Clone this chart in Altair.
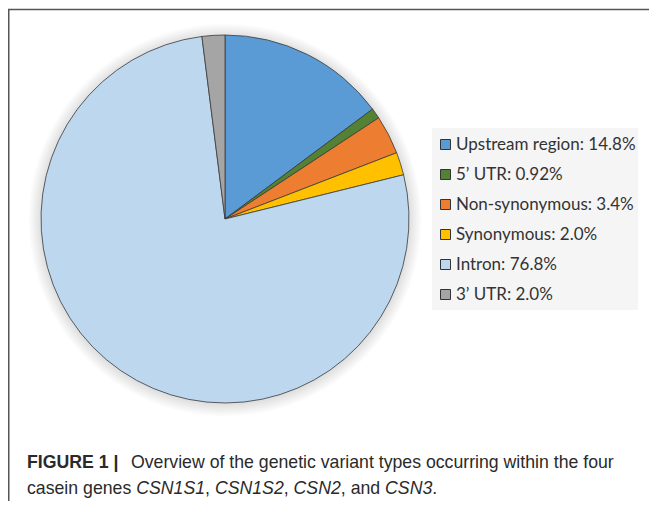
import altair as alt
import pandas as pd

# ---- data ----
categories = ["Upstream region", "5\u2019 UTR", "Non-synonymous", "Synonymous", "Intron", "3\u2019 UTR"]
percent_values = [14.8, 0.92, 3.4, 2.0, 76.8, 2.0]
percent_labels = ["14.8%", "0.92%", "3.4%", "2.0%", "76.8%", "2.0%"]
colors = ["#5B9BD5", "#548235", "#ED7D31", "#FFC000", "#BDD7EE", "#A5A5A5"]

caption_line1 = ["FIGURE 1 |", "Overview of the genetic variant types occurring within the four"]
caption_line2 = ["casein genes ", "CSN1S1", ", ", "CSN1S2", ", ", "CSN2", ", and ", "CSN3", "."]
caption_line2_italic = [False, True, False, True, False, True, False, True, False]

labels = [f"{c}: {p}" for c, p in zip(categories, percent_labels)]
df = pd.DataFrame({"label": labels, "value": percent_values, "order": list(range(len(labels)))})

W, H = 641, 493
CX, CY, R = 217, 211, 184
one = pd.DataFrame({"a": [0]})

# soft glow around the pie
glow = [
    alt.Chart(one).mark_arc(radius=R + 1 + 1.6 * k, theta=0, theta2=6.2832, fill="#000000",
                            opacity=0.016).encode(x=alt.value(CX), y=alt.value(CY + 1))
    for k in range(8)
]

pie = alt.Chart(df).mark_arc(radius=R, stroke="#3a3a3a", strokeWidth=0.8).encode(
    theta=alt.Theta("value:Q", stack=True),
    order=alt.Order("order:Q"),
    color=alt.Color(
        "label:N",
        scale=alt.Scale(domain=labels, range=colors),
        legend=alt.Legend(
            title=None, orient="none", legendX=429, legendY=128,
            symbolType="square", symbolSize=100, symbolStrokeColor="#333333",
            symbolStrokeWidth=1, labelFont="Lato", labelFontSize=17, labelColor="#333333",
            labelOffset=2, rowPadding=12, padding=0, labelLimit=300,
        ),
    ),
    x=alt.value(CX),
    y=alt.value(CY),
)

legend_bg = alt.Chart(one).mark_rect(fill="#F5F5F5").encode(
    x=alt.value(424), x2=alt.value(630), y=alt.value(120), y2=alt.value(302)
)

frame_left = alt.Chart(one).mark_rule(color="#555555", strokeWidth=1.5).encode(
    x=alt.value(0.75), y=alt.value(1), y2=alt.value(H)
)
frame_top = alt.Chart(one).mark_rule(color="#555555", strokeWidth=1.5).encode(
    y=alt.value(1.5), x=alt.value(0), x2=alt.value(W)
)

FONT = "Liberation Sans"
FS = 17.7
TXT = "#2a2a2a"

# Arial / Liberation Sans advance widths (per 1000 em) used to lay the caption segments side by side
ADV = {" ": 278, ",": 278, ".": 278, "a": 556, "c": 500, "d": 556, "e": 556, "g": 556, "i": 222,
       "n": 556, "s": 500, "C": 722, "N": 722, "S": 667, "1": 556, "2": 556, "3": 556}


def seg_width(s):
    return sum(ADV.get(ch, 556) for ch in s) * FS / 1000.0


texts = [
    alt.Chart(one).mark_text(text=caption_line1[0], align="left", baseline="alphabetic", font=FONT,
                             fontSize=FS, fontWeight="bold", color=TXT).encode(x=alt.value(19), y=alt.value(460)),
    alt.Chart(one).mark_text(text=caption_line1[1], align="left", baseline="alphabetic", font=FONT,
                             fontSize=FS, color=TXT).encode(x=alt.value(123), y=alt.value(460)),
]
xpos = 19.0
for seg, it in zip(caption_line2, caption_line2_italic):
    texts.append(
        alt.Chart(one).mark_text(text=seg.strip(), align="left", baseline="alphabetic", font=FONT, fontSize=FS,
                                 fontStyle="italic" if it else "normal", color=TXT).encode(
            x=alt.value(round(xpos + (seg_width(seg) - seg_width(seg.lstrip())), 1)), y=alt.value(486))
    )
    xpos += seg_width(seg)

chart = alt.layer(legend_bg, *glow, pie, frame_left, frame_top, *texts).properties(
    width=W, height=H, padding=0, autosize="none", background="white"
).configure_view(stroke="transparent")

chart.save("out.html", embed_options={"renderer": "svg", "actions": False})
